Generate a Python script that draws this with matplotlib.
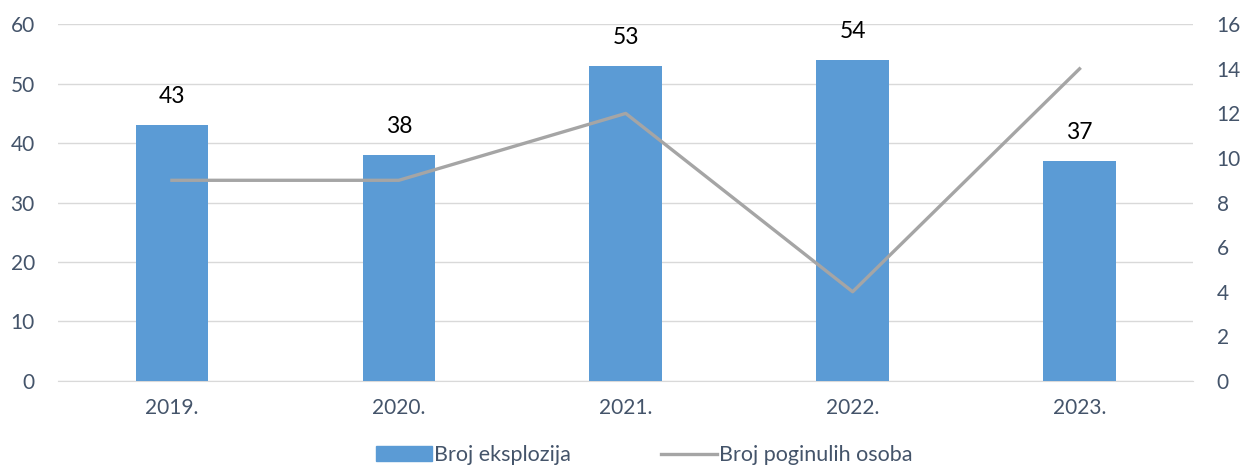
import matplotlib.pyplot as plt
from matplotlib.lines import Line2D
from matplotlib.patches import Patch

years = ["2019.", "2020.", "2021.", "2022.", "2023."]
eksplozije = [43, 38, 53, 54, 37]
poginuli = [9, 9, 12, 4, 14]

txt = "#44546A"
plt.rcParams['font.family'] = ['Lato', 'DejaVu Sans']

fig = plt.figure(figsize=(12.44, 4.75), dpi=100)
ax = fig.add_axes([0.047, 0.198, 0.912, 0.751])
ax2 = ax.twinx()

x = list(range(len(years)))
ax.bar(x, eksplozije, width=0.32, color="#5B9BD5", zorder=3)
for xi, v in zip(x, eksplozije):
    ax.text(xi, v + 3, str(v), ha="center", va="bottom", fontsize=16.5, color="black")

ax2.plot(x, poginuli, color="#A5A5A5", linewidth=2.4, zorder=4)

ax.set_xlim(-0.5, 4.5)
ax.set_ylim(0, 60)
ax.set_yticks(range(0, 61, 10))
ax2.set_ylim(0, 16)
ax2.set_yticks(range(0, 17, 2))
ax.set_xticks(x)
ax.set_xticklabels(years)

ax.grid(True, axis="y", color="#D9D9D9", linewidth=1, zorder=0)
for a in (ax, ax2):
    for s in a.spines.values():
        s.set_visible(False)
    a.tick_params(length=0, labelsize=15, colors=txt)
ax.spines["bottom"].set_visible(True)
ax.spines["bottom"].set_color("#D9D9D9")
ax.tick_params(axis="x", pad=12)
ax.tick_params(axis="y", pad=17)
ax2.tick_params(axis="y", pad=17)

handles = [Patch(color="#5B9BD5", label="Broj eksplozija"),
           Line2D([0], [0], color="#A5A5A5", linewidth=2.4, label="Broj poginulih osoba")]
leg = fig.legend(handles=handles, loc="lower center", bbox_to_anchor=(0.518, -0.02), ncol=2,
                 frameon=False, fontsize=15.5, handlelength=2.6, handletextpad=0.1,
                 columnspacing=4.2)
for t in leg.get_texts():
    t.set_color(txt)

fig.savefig("out.png", dpi=100)
